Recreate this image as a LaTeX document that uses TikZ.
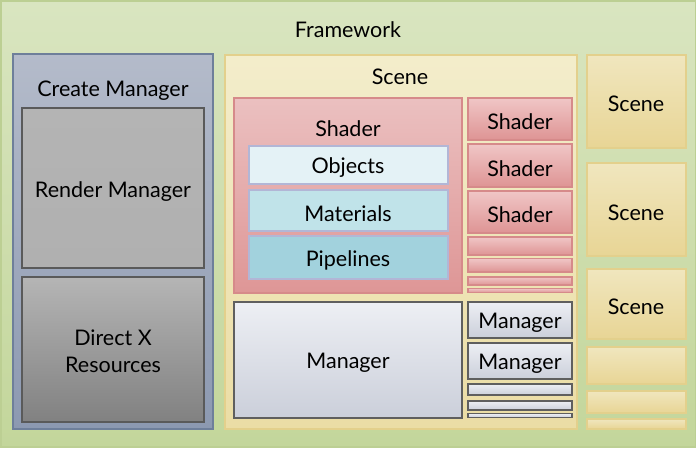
\documentclass[tikz,border=0pt]{standalone}
\usepackage{fontspec}
\setmainfont{Lato}
\begin{document}
\begin{tikzpicture}[x=1pt,y=-1pt,
  bxfw/.style={draw=fwB,line width=1.2pt,top color=fwT,bottom color=fwD},
  bxcm/.style={draw=cmB,line width=1.2pt,top color=cmT,bottom color=cmD},
  bxrm/.style={draw=rmB,line width=1.2pt,top color=rmT,bottom color=rmD},
  bxdx/.style={draw=rmB,line width=1.2pt,top color=dxT,bottom color=dxD},
  bxsc/.style={draw=scB,line width=1.2pt,top color=scT,bottom color=scD},
  bxrs/.style={draw=scB,line width=1.2pt,top color=rsT,bottom color=rsD},
  bxsh/.style={draw=shB,line width=1.2pt,top color=shT,bottom color=shD},
  bxss/.style={draw=shB,line width=1.2pt,top color=ssT,bottom color=ssD},
  bxbl/.style={draw=blB,line width=1.2pt},
  bxmg/.style={draw=mgB,line width=1.2pt,top color=mgT,bottom color=mgD},
  lbl/.style={font=\fontsize{21.5}{26}\selectfont,text=black,align=center,inner sep=0pt,yshift=-1.5pt}
]
\definecolor{fwB}{HTML}{BCCF93}\definecolor{fwT}{HTML}{D9E5C0}\definecolor{fwD}{HTML}{C3D69B}
\definecolor{cmB}{HTML}{6E7F9A}\definecolor{cmT}{HTML}{B4BBCA}\definecolor{cmD}{HTML}{8C99B1}
\definecolor{rmB}{HTML}{5A5A5A}\definecolor{rmT}{HTML}{B4B4B4}\definecolor{rmD}{HTML}{B0B0B0}
\definecolor{dxT}{HTML}{B5B5B5}\definecolor{dxD}{HTML}{818181}
\definecolor{scB}{HTML}{E3D08C}\definecolor{scT}{HTML}{F3EDCB}\definecolor{scD}{HTML}{EBDDA5}
\definecolor{rsT}{HTML}{F0E6BE}\definecolor{rsD}{HTML}{E8D595}
\definecolor{shB}{HTML}{D68A8A}\definecolor{shT}{HTML}{EBC0C0}\definecolor{shD}{HTML}{DE9696}
\definecolor{ssT}{HTML}{F0C6C6}\definecolor{ssD}{HTML}{DE9494}
\definecolor{blB}{HTML}{B2B6D6}
\definecolor{obF}{HTML}{E4F2F6}\definecolor{maF}{HTML}{C0E3E9}\definecolor{piF}{HTML}{A2D2DD}
\definecolor{mgB}{HTML}{5F5F5F}\definecolor{mgT}{HTML}{EDEFF4}\definecolor{mgD}{HTML}{CBCFDA}
\useasboundingbox (0,0) rectangle (699,450);
\fill[white] (0,0) rectangle (699,450);
% framework
\path[bxfw] (1,1) rectangle (695.5,447);
\node[lbl] (fwl) at (348,28) {Framework};
% create manager
\path[bxcm] (13,54) rectangle (213,429);
\node[lbl] (cml) at (113,89) {Create Manager};
\path[bxrm] (22,108) rectangle (204,268);
\node[lbl] (rml) at (113,190) {Render Manager};
\path[bxdx] (22,277) rectangle (204,422);
\node[lbl] (dxl) at (113,350) {Direct X\\[1pt]Resources};
% scene
\path[bxsc] (225,55) rectangle (577,429);
\node[lbl] (scl) at (400,75) {Scene};
\path[bxsh] (234,98) rectangle (462,293);
\node[lbl] (shl) at (348,127) {Shader};
\path[bxbl,fill=obF] (249,146) rectangle (448,184);
\node[lbl] (obl) at (348,166) {Objects};
\path[bxbl,fill=maF] (249,190) rectangle (448,231);
\node[lbl] (mal) at (348,212) {Materials};
\path[bxbl,fill=piF] (249,236) rectangle (448,279);
\node[lbl] (pil) at (348,259) {Pipelines};
% small shaders
\path[bxss] (468,98) rectangle (572,140);
\node[lbl] (s1) at (520,120) {Shader};
\path[bxss] (468,144) rectangle (572,187);
\node[lbl] (s2) at (520,167) {Shader};
\path[bxss] (468,191) rectangle (572,233);
\node[lbl] (s3) at (520,213) {Shader};
\path[bxss] (468,237) rectangle (572,255);
\path[bxss] (468,258.5) rectangle (572,272);
\path[bxss] (468,277) rectangle (572,285);
\path[bxss] (468,288.5) rectangle (572,292.5);
% managers
\path[bxmg] (234,302) rectangle (462,418);
\node[lbl] (mgl) at (348,361) {Manager};
\path[bxmg] (468,302) rectangle (572,338);
\node[lbl] (m1) at (520,321) {Manager};
\path[bxmg] (468,343) rectangle (572,379);
\node[lbl] (m2) at (520,362) {Manager};
\path[bxmg] (468,384) rectangle (572,395);
\path[bxmg] (468,401) rectangle (572,410);
\path[bxmg] (468,413.5) rectangle (572,417.5);
% right scenes
\path[bxrs] (587,55) rectangle (686,148);
\node[lbl] (r1) at (636,102) {Scene};
\path[bxrs] (587,163) rectangle (686,256);
\node[lbl] (r2) at (636,211) {Scene};
\path[bxrs] (587,269) rectangle (686,339);
\node[lbl] (r3) at (636,305) {Scene};
\path[bxrs] (587,347) rectangle (686,384);
\path[bxrs] (587,391) rectangle (686,413);
\path[bxrs] (587,419) rectangle (686,429);
\end{tikzpicture}
\end{document}
